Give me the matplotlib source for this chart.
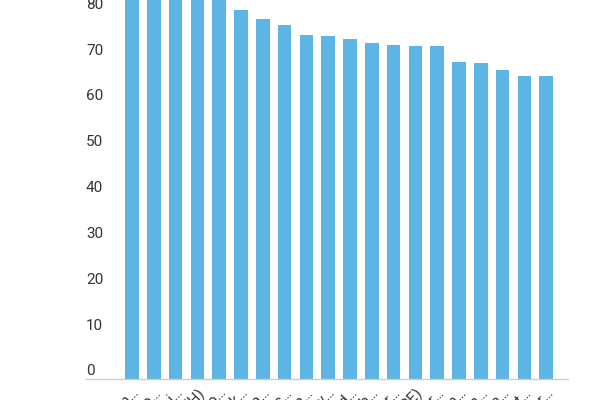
import matplotlib
matplotlib.use("Agg")
import matplotlib.pyplot as plt
import matplotlib.transforms as mtransforms

categories = ["Sin…", "Ho…", "Tai…", "Ban…(H)", "Seo…", "Tok…", "Osa…", "Mac…",
              "Lon…", "New…", "Syd…", "Dub…", "Par…", "Lim…(PE)", "Ber…", "Rom…",
              "Mia…", "Ma…", "Ist…", "Bar…"]
values = [92, 90, 88, 86, 85, 80.6, 78.7, 77.4, 75.2, 75.0, 74.2, 73.5, 73.0, 72.8,
          72.8, 69.2, 69.0, 67.6, 66.2, 66.2]
yticks = [0, 10, 20, 30, 40, 50, 60, 70, 80]

bar_color = "#5DB5E5"
text_color = "#333333"

plt.rcParams['font.family'] = ['Roboto', 'DejaVu Sans']
fig = plt.figure(figsize=(6, 4), dpi=100)
ax = fig.add_axes([86/600, (400-379.3)/400, (568-86)/600, 379.3/400])

x = list(range(len(categories)))
ax.bar(x, values, width=0.62, color=bar_color, zorder=2)
ax.set_xlim(-2.11, 20.0)
ax.set_ylim(0, 379.3/4.58)

for s in ["top", "right", "left"]:
    ax.spines[s].set_visible(False)
ax.spines["bottom"].set_color("#cccccc")
ax.spines["bottom"].set_linewidth(1)

ax.set_yticks([])
off = mtransforms.ScaledTranslation(0, 8/100, fig.dpi_scale_trans)
trans = mtransforms.blended_transform_factory(ax.transAxes, ax.transData) + off
for t in yticks:
    ax.text(0.0, t, str(t), transform=trans, ha="left", va="center",
            fontsize=11, color=text_color)

ax.set_xticks(x)
ax.set_xticklabels(categories, rotation=45, ha="right", rotation_mode="anchor",
                   fontsize=11, color=text_color)
ax.tick_params(axis="x", length=0, pad=4)

fig.savefig("out.png", dpi=100)
